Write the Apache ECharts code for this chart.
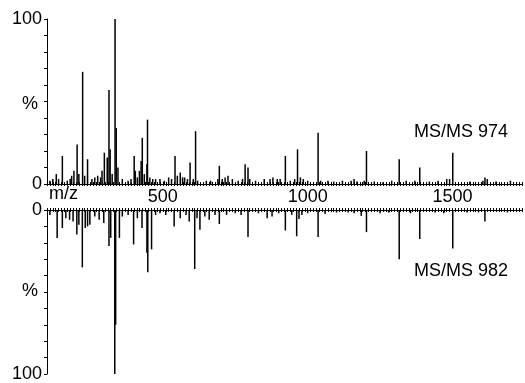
<!DOCTYPE html>
<html>
<head>
<meta charset="utf-8">
<script src="https://cdn.jsdelivr.net/npm/echarts@6/dist/echarts.min.js"></script>
<style>
html, body { margin: 0; padding: 0; background: #fff; }
#chart { width: 525px; height: 383px; }
</style>
</head>
<body>
<div id="chart"></div>
<script>
// MS/MS 974 peaks: [m/z, relative intensity %]
var peaks974 = [
	[110, 2], [120, 3], [132, 6], [140, 3], [153, 17], [170, 2], [180, 3], [185, 5], [193, 8],
	[204, 24], [210, 6], [223, 68], [230, 5], [240, 15], [255, 3], [265, 4], [275, 5], [285, 4],
	[290, 8], [298, 19], [308, 16], [314, 57], [318, 21], [325, 6], [335, 100], [339, 34],
	[345, 10], [360, 3], [380, 2], [390, 3], [401, 17], [405, 8], [412, 4], [419, 8], [425, 14],
	[429, 28], [436, 6], [445, 12], [447, 39], [455, 4], [465, 3], [475, 3], [490, 3], [505, 2],
	[520, 4], [530, 3], [542, 17], [550, 5], [560, 7], [568, 4], [575, 4], [585, 3], [594, 13],
	[605, 3], [613, 32], [620, 2], [650, 2], [665, 2], [690, 3], [695, 11], [705, 3], [715, 4],
	[725, 5], [740, 3], [760, 2], [775, 3], [784, 12], [794, 10], [800, 3], [820, 2], [850, 3],
	[870, 3], [880, 4], [895, 3], [905, 3], [923, 17], [940, 2], [955, 3], [965, 21], [975, 4],
	[985, 3], [1000, 2], [1036, 31], [1045, 2], [1070, 2], [1090, 1.5], [1120, 2], [1150, 2],
	[1160, 3], [1170, 1.5], [1195, 2], [1203, 20], [1230, 1.5], [1260, 1], [1290, 2], [1316, 15],
	[1340, 2], [1370, 2], [1387, 10], [1420, 1.5], [1450, 2], [1480, 3], [1490, 3], [1501, 19],
	[1560, 1.5], [1605, 2], [1612, 4], [1620, 3], [1650, 1.5], [1700, 2]
];

// MS/MS 982 peaks (drawn downwards)
var peaks982 = [
	[110, 3], [135, 17], [153, 11], [165, 5], [178, 6], [190, 7], [203, 15], [210, 9], [222, 35],
	[232, 11], [240, 10], [248, 9], [265, 4], [280, 6], [296, 8], [314, 22], [320, 17], [334, 100],
	[337, 70], [350, 17], [360, 4], [380, 3], [399, 21], [412, 5], [428, 11], [445, 26], [448, 38],
	[461, 24], [475, 3], [490, 2], [510, 3], [539, 10], [560, 5], [580, 3], [591, 7], [610, 36],
	[618, 5], [628, 12], [645, 4], [660, 6], [680, 3], [695, 8.5], [720, 3], [750, 2], [770, 3],
	[794, 16.5], [830, 2], [860, 5], [877, 4], [900, 2], [923, 12.5], [945, 3], [962, 16],
	[970, 5.5], [980, 3], [1000, 2], [1036, 16.5], [1060, 2.4], [1100, 1.5], [1140, 1.5],
	[1160, 2], [1185, 3.6], [1203, 13.5], [1250, 2], [1280, 1.5], [1316, 30], [1355, 2],
	[1387, 17.7], [1440, 1.5], [1470, 2], [1501, 23.5], [1550, 1.5], [1590, 1.5], [1612, 7],
	[1690, 1.5]
];

var mzLabels = [500, 1000, 1500];
var pctLabels = [0, 100];
var spectrumNames = ['MS/MS 974', 'MS/MS 982'];

var mzMin = 100, mzMax = 1740;
var tickValues = [];
for (var v = mzMin; v <= mzMax; v += 10) {
	tickValues.push(v);
}

var font = 'Liberation Sans, Arial, sans-serif';
var fs = 18;

function makeX(gridIndex, pos, showLabel, inside, showLine) {
	return {
		type: 'value',
		gridIndex: gridIndex,
		position: pos,
		min: mzMin,
		max: mzMax,
		axisLine: { show: showLine, onZero: false, lineStyle: { color: '#000', width: 1 } },
		axisTick: {
			show: true,
			inside: inside,
			length: 2,
			customValues: tickValues,
			lineStyle: { color: '#000', width: 1 }
		},
		axisLabel: {
			show: showLabel,
			customValues: mzLabels,
			color: '#000',
			fontSize: fs,
			fontFamily: font,
			margin: 4,
			formatter: function(val) {
				return String(val);
			}
		},
		splitLine: { show: false }
	};
}

function makeY(gridIndex, inverse) {
	return {
		type: 'value',
		gridIndex: gridIndex,
		min: 0,
		max: 100,
		interval: 10,
		inverse: inverse,
		axisLine: { show: true, lineStyle: { color: '#000', width: 1 } },
		axisTick: { show: true, length: 3, lineStyle: { color: '#000' } },
		axisLabel: {
			color: '#000',
			fontSize: fs,
			fontFamily: font,
			margin: 5,
			formatter: function(val) {
				return pctLabels.indexOf(val) >= 0 ? String(val) : '';
			}
		},
		splitLine: { show: false }
	};
}

var myChart = echarts.init(document.getElementById('chart'), null, { renderer: 'canvas' });

var option = {
	backgroundColor: '#fff',
	animation: false,
	grid: [
		{ left: 47, right: 3, top: 19, height: 165 },
		{ left: 47, right: 3, top: 210, height: 166 }
	],
	xAxis: [
		makeX(0, 'bottom', true, false, true),
		makeX(1, 'top', false, false, true),
		makeX(0, 'bottom', false, true, false),
		makeX(1, 'top', false, true, false)
	],
	yAxis: [
		makeY(0, false),
		makeY(1, true)
	],
	graphic: [
		{ type: 'text', left: 22, top: 95, style: { text: '%', font: fs + 'px ' + font, fill: '#000' } },
		{ type: 'text', left: 22, top: 282, style: { text: '%', font: fs + 'px ' + font, fill: '#000' } },
		{ type: 'text', left: 49, top: 185, style: { text: 'm/z', font: fs + 'px ' + font, fill: '#000' } },
		{ type: 'text', left: 414, top: 123, style: { text: spectrumNames[0], font: fs + 'px ' + font, fill: '#000' } },
		{ type: 'text', left: 414, top: 262, style: { text: spectrumNames[1], font: fs + 'px ' + font, fill: '#000' } }
	],
	series: [
		{
			name: spectrumNames[0],
			type: 'bar',
			xAxisIndex: 0,
			yAxisIndex: 0,
			barWidth: 1.5,
			silent: true,
			itemStyle: { color: '#000' },
			data: peaks974
		},
		{
			name: spectrumNames[1],
			type: 'bar',
			xAxisIndex: 1,
			yAxisIndex: 1,
			barWidth: 1.5,
			silent: true,
			itemStyle: { color: '#000' },
			data: peaks982
		}
	]
};

myChart.setOption(option);
</script>
</body>
</html>
